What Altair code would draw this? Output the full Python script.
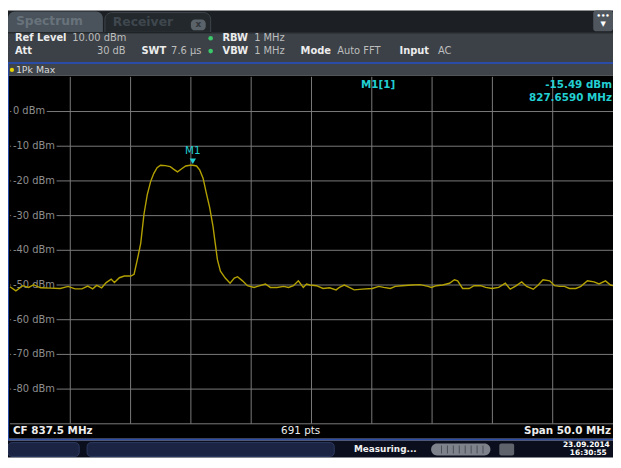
import altair as alt
import pandas as pd

# ---------------- data ----------------
center_mhz = 837.5
span_mhz = 50.0
ref_level_dbm = 10.0
n_points = 691

freq_mhz = [
    812.50, 812.99, 813.56, 814.05, 814.46, 815.03, 815.85, 816.67, 817.32, 817.89,
    818.46, 818.95, 819.36, 819.69, 820.10, 820.48, 820.89, 821.16, 821.57, 821.98,
    822.52, 822.79, 823.06, 823.34, 823.61, 823.88, 824.16, 824.43, 824.70, 824.98,
    825.38, 825.79, 826.06, 826.39, 826.74, 827.07, 827.43, 827.66, 827.97, 828.24,
    828.51, 828.78, 829.06, 829.33, 829.52, 829.70, 829.95, 830.35, 830.75, 831.10,
    831.37, 831.78, 832.19, 832.74, 833.01, 833.68, 834.09, 834.64, 835.19, 835.60,
    836.00, 836.41, 836.82, 837.09, 837.36, 837.91, 838.46, 839.00, 839.54, 839.81,
    840.22, 840.63, 841.04, 841.72, 842.54, 843.08, 843.49, 844.04, 844.45, 844.99,
    845.81, 846.49, 847.17, 847.44, 847.85, 848.39, 848.94, 849.35, 849.62, 850.03,
    850.57, 850.98, 851.53, 851.94, 852.48, 853.02, 853.57, 853.98, 854.39, 854.93,
    855.34, 855.89, 856.30, 856.70, 857.25, 857.66, 858.07, 858.48, 858.89, 859.42,
    859.84, 860.38, 860.93, 861.34, 861.88, 862.29, 862.50,
]
level_dbm = [
    -50.5, -51.7, -50.2, -50.7, -49.9, -50.8, -50.9, -51.0, -50.4, -51.1,
    -51.1, -50.3, -51.1, -50.1, -50.8, -49.3, -48.3, -49.3, -47.9, -47.4,
    -47.4, -46.9, -42.7, -38.0, -29.6, -24.0, -20.2, -17.8, -16.2, -15.5,
    -15.6, -15.9, -16.6, -17.4, -16.5, -15.7, -15.5, -15.49, -15.7, -16.9,
    -19.2, -23.5, -27.7, -33.0, -38.0, -42.7, -46.0, -48.0, -49.5, -48.0,
    -47.6, -48.8, -50.2, -50.7, -50.4, -49.7, -50.7, -50.7, -50.4, -50.7,
    -50.2, -48.8, -50.7, -49.7, -50.0, -50.2, -51.0, -50.8, -51.4, -50.7,
    -50.0, -50.7, -51.4, -51.2, -51.0, -50.4, -50.7, -51.0, -50.4, -50.2,
    -50.0, -49.9, -50.4, -50.7, -50.2, -50.0, -49.5, -48.5, -48.8, -51.0,
    -51.0, -50.2, -50.2, -50.7, -51.0, -50.7, -49.5, -51.2, -50.4, -49.1,
    -50.4, -51.2, -50.0, -48.5, -48.8, -50.2, -50.4, -50.4, -51.0, -51.0,
    -50.4, -48.8, -49.1, -49.7, -48.8, -50.0, -50.2,
]

level_ticks = [0, -10, -20, -30, -40, -50, -60, -70, -80]
level_labels = ["0 dBm", "-10 dBm", "-20 dBm", "-30 dBm", "-40 dBm",
                "-50 dBm", "-60 dBm", "-70 dBm", "-80 dBm"]

marker_freq_mhz = 827.659
marker_level_dbm = -15.49

f_start = center_mhz - span_mhz / 2
f_stop = center_mhz + span_mhz / 2
bottom_dbm = ref_level_dbm - 100
grid_freqs = [f_start + span_mhz / 10 * i for i in range(1, 10)]
grid_levels = level_ticks + [bottom_dbm]

# ---------------- layout ----------------
W, H = 612, 452
PX0, PX1 = 2, 612
PY0, PY1 = 67, 418
FONT = "DejaVu Sans"
CYAN = "#22cfd2"
TRACE = "#b3a100"
GRID = "#7a7a7a"
BLUE = "#2a4ba6"

xs = alt.Scale(domain=[f_start, f_stop], range=[PX0, PX1], nice=False, zero=False)
ys = alt.Scale(domain=[bottom_dbm, ref_level_dbm], range=[PY1, PY0], nice=False, zero=False)

one = pd.DataFrame({"a": [0]})


def box(x, y, x2, y2, color, **kw):
    return alt.Chart(one).mark_rect(color=color, **kw).encode(
        x=alt.value(x), x2=alt.value(x2), y=alt.value(y), y2=alt.value(y2))


def txt(s, x, y, color="#e6e6e6", size=10, bold=False, align="left", **kw):
    return alt.Chart(one).mark_text(
        text=s, font=FONT, fontSize=size, fontWeight="bold" if bold else "normal",
        color=color, align=align, baseline="middle", **kw
    ).encode(x=alt.value(x), y=alt.value(y))


def dot(x, y, color, size=22):
    return alt.Chart(one).mark_point(filled=True, shape="circle", size=size,
                                     color=color, opacity=1).encode(
        x=alt.value(x), y=alt.value(y))


layers = []
# tab bar
layers.append(box(0, 0, W, 22, "#1c2024"))
layers.append(box(0, 1, 96, 22, "#4a535b", cornerRadiusTopLeft=7, cornerRadiusTopRight=7))
layers.append(txt("Spectrum", 8, 11, "#68727b", 12.5, True))
layers.append(box(98, 2, 205, 22, "#23282c", cornerRadiusTopLeft=7, cornerRadiusTopRight=7,
                  stroke="#3d444b", strokeWidth=1))
layers.append(txt("Receiver", 106, 12, "#3f474e", 12.5, True))
layers.append(box(185, 9, 200, 20, "#5b636a", cornerRadius=4))
layers.append(txt("x", 192.5, 14, "#30353a", 9, True, "center"))
layers.append(box(592, 0, 612, 21, "#4f565e", cornerRadius=3))
layers.append(txt("•••", 602, 6, "#ffffff", 7, True, "center"))
layers.append(txt("▼", 602, 14, "#ffffff", 7, False, "center"))

# header
layers.append(box(0, 22, W, 52, "#3b4147"))
layers.append(box(0, 22, W, 23, "#15181b"))
r1, r2 = 28, 41
LBL, VAL = "#ececec", "#bdbdbd"
layers += [
    txt("Ref Level", 7, r1, LBL, 10, True),
    txt("10.00 dBm", 65, r1, VAL, 10),
    dot(205, r1, "#3cc86a"),
    txt("RBW", 217, r1, LBL, 10, True),
    txt("1 MHz", 249, r1, VAL, 10),
    txt("Att", 7, r2, LBL, 10, True),
    txt("30 dB", 119, r2, VAL, 10, align="right"),
    txt("SWT", 135, r2, LBL, 10, True),
    txt("7.6 µs", 165, r2, VAL, 10),
    dot(205, r2, "#3cc86a"),
    txt("VBW", 217, r2, LBL, 10, True),
    txt("1 MHz", 249, r2, VAL, 10),
    txt("Mode", 296, r2, LBL, 10, True),
    txt("Auto FFT", 333, r2, VAL, 10),
    txt("Input", 396, r2, LBL, 10, True),
    txt("AC", 435, r2, VAL, 10),
]
layers.append(box(0, 52, W, 54, BLUE))
layers.append(box(0, 54, W, 66, "#3e444a"))
layers.append(dot(4, 60, "#e8d400", 18))
layers.append(txt("1Pk Max", 8, 60, "#dadada", 9.5))

# plot + footer background
layers.append(box(1, 66, W, 433, "#000000"))
layers.append(box(0, 52, 1, 435, BLUE))
layers.append(box(0, 433, W, 435, BLUE))

# grid
vgrid = pd.DataFrame({"f": grid_freqs})
layers.append(alt.Chart(vgrid).mark_rule(color=GRID, strokeWidth=1).encode(
    x=alt.X("f:Q", scale=xs, axis=None), y=alt.value(PY0), y2=alt.value(PY1)))
hgrid = pd.DataFrame({"level": grid_levels})
layers.append(alt.Chart(hgrid).mark_rule(color=GRID, strokeWidth=1).encode(
    y=alt.Y("level:Q", scale=ys, axis=None), x=alt.value(PX0), x2=alt.value(PX1)))

# level labels (black halo hides the grid line behind them)
ylab = pd.DataFrame({"level": level_ticks, "label": level_labels})
layers.append(alt.Chart(ylab).mark_text(
    align="left", baseline="middle", font=FONT, fontSize=10, fill="#000000",
    stroke="#000000", strokeWidth=5).encode(
    x=alt.value(5), y=alt.Y("level:Q", scale=ys, axis=None), text="label:N"))
layers.append(alt.Chart(ylab).mark_text(
    align="left", baseline="middle", font=FONT, fontSize=10, color="#8e8e8e").encode(
    x=alt.value(5), y=alt.Y("level:Q", scale=ys, axis=None), text="label:N"))

# trace
trace = pd.DataFrame({"f": freq_mhz, "level": level_dbm})
layers.append(alt.Chart(trace).mark_line(color=TRACE, strokeWidth=1.4).encode(
    x=alt.X("f:Q", scale=xs, axis=None), y=alt.Y("level:Q", scale=ys, axis=None)))

# marker
mk = pd.DataFrame({"f": [marker_freq_mhz], "level": [marker_level_dbm], "name": ["M1"]})
layers.append(alt.Chart(mk).mark_point(shape="triangle-down", filled=True, size=42,
                                       color=CYAN, opacity=1, yOffset=-4).encode(
    x=alt.X("f:Q", scale=xs, axis=None), y=alt.Y("level:Q", scale=ys, axis=None)))
layers.append(alt.Chart(mk).mark_text(font=FONT, fontSize=10.5, color=CYAN, dy=-14,
                                      baseline="middle").encode(
    x=alt.X("f:Q", scale=xs, axis=None), y=alt.Y("level:Q", scale=ys, axis=None),
    text="name:N"))

layers += [
    txt("M1[1]", 357, 75, CYAN, 10.5, True),
    txt(f"{marker_level_dbm:.2f} dBm", 611, 75, CYAN, 10.5, True, "right"),
    txt(f"{marker_freq_mhz:.4f} MHz", 611, 88, CYAN, 10.5, True, "right"),
]

# footer
fy = 425.5
layers += [
    txt(f"CF {center_mhz:.1f} MHz", 5, fy, "#ededed", 10.5, True),
    txt(f"{n_points} pts", 296, fy, "#ededed", 10.5, False, "center"),
    txt(f"Span {span_mhz:.1f} MHz", 610, fy, "#ededed", 10.5, True, "right"),
]

# status bar
layers.append(box(0, 435, W, H, "#0b0f1d"))
layers.append(box(0, 437, 72, 451, "#1b2443", cornerRadius=4, stroke="#2d3960", strokeWidth=1))
layers.append(box(80, 437, 330, 451, "#1b2443", cornerRadius=4, stroke="#2d3960", strokeWidth=1))
layers.append(txt("Measuring...", 350, 444, "#f0f0f0", 9, True))
layers.append(box(428, 438, 488, 450, "#7d828b", cornerRadius=6))
for sx in [438, 444, 450, 456, 462, 468, 474, 480]:
    layers.append(box(sx, 440, sx + 1, 448, "#4a4f58"))
layers.append(box(497, 438, 512, 450, "#5f646c", cornerRadius=2))
layers.append(txt("23.09.2014", 585, 439, "#ffffff", 7.5, True, "center"))
layers.append(txt("16:30:55", 587, 448, "#ffffff", 7.5, True, "center"))

chart = alt.layer(*layers).properties(
    width=W, height=H, padding=0, autosize="none", background="#ffffff"
).configure_view(stroke=None)

chart.save("out.html", embed_options={"renderer": "svg", "actions": False})
